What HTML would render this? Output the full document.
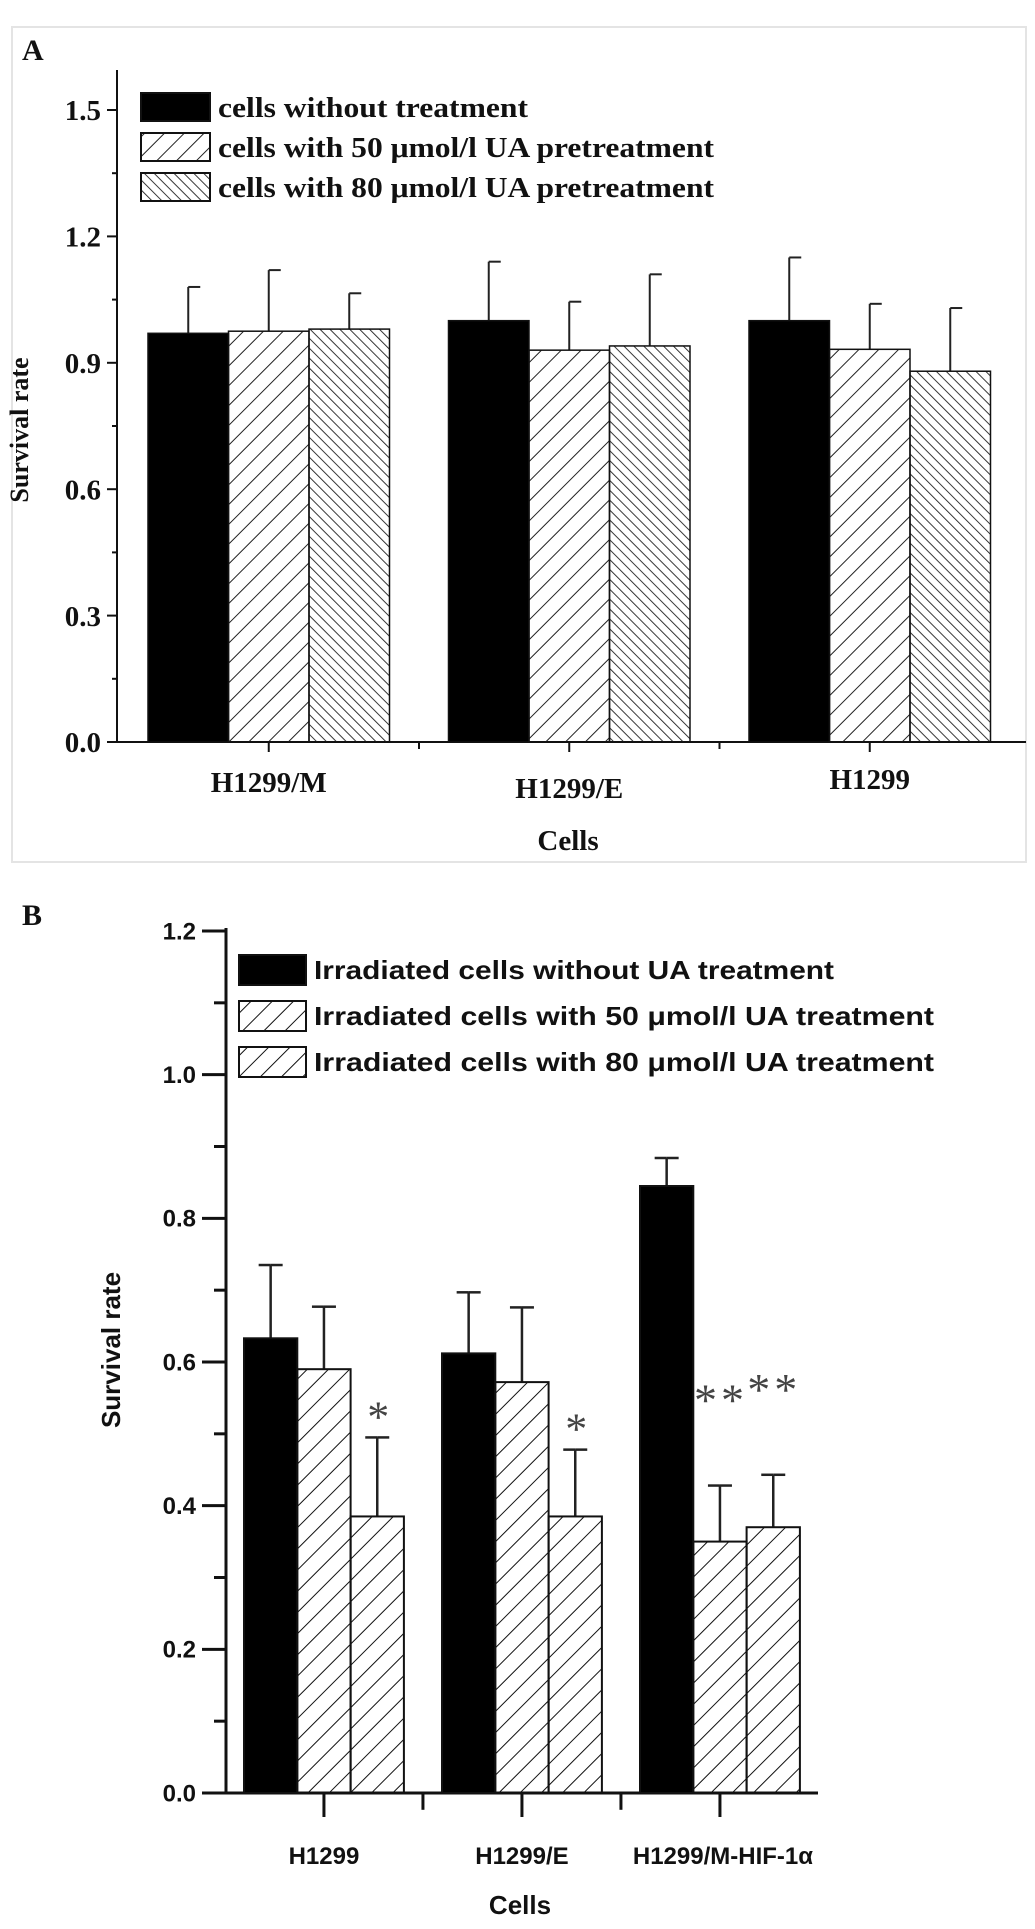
<!DOCTYPE html>
<html><head><meta charset="utf-8"><style>
html,body{margin:0;padding:0;background:#fff;}
svg{display:block;}
.ser{font-family:"Liberation Serif",serif;font-weight:bold;fill:#111;}
.san{font-family:"Liberation Sans",sans-serif;font-weight:bold;fill:#111;}
.star{font-family:"Liberation Serif",serif;font-weight:normal;fill:#444;}
</style></head><body>
<svg id="chart" width="1035" height="1929" viewBox="0 0 1035 1929" xmlns="http://www.w3.org/2000/svg">
<defs>
<pattern id="hA1" patternUnits="userSpaceOnUse" width="14" height="14" patternTransform="rotate(45)"><line x1="0" y1="0" x2="0" y2="14" stroke="#222" stroke-width="2"/></pattern>
<pattern id="hA2" patternUnits="userSpaceOnUse" width="7" height="7" patternTransform="rotate(-45)"><line x1="0" y1="0" x2="0" y2="7" stroke="#222" stroke-width="1.8"/></pattern>
<pattern id="hB" patternUnits="userSpaceOnUse" width="15" height="15" patternTransform="rotate(45)"><line x1="0" y1="0" x2="0" y2="15" stroke="#111" stroke-width="2"/></pattern>
</defs>
<rect x="12" y="27" width="1014" height="835" fill="none" stroke="#e4e4e4" stroke-width="2"/>
<text class="ser" x="22" y="60" font-size="30">A</text>
<text class="ser" x="22" y="925" font-size="30">B</text>
<g id="A"></g><g id="B"></g>
</svg>
<script>
const catsA = ["H1299/M","H1299/E","H1299"];
const ctrlA = [0.97,1.0,1.0];
const ua50A = [0.975,0.93,0.932];
const ua80A = [0.98,0.94,0.88];
const ctrlErrA = [1.08,1.14,1.15];
const ua50ErrA = [1.12,1.045,1.04];
const ua80ErrA = [1.065,1.11,1.03];
const ticksA = ["0.0","0.3","0.6","0.9","1.2","1.5"];
const legendA = ["cells without treatment","cells with 50 \u03bcmol/l UA pretreatment","cells with 80 \u03bcmol/l UA pretreatment"];

const catsB = ["H1299","H1299/E","H1299/M-HIF-1\u03b1"];
const ctrlB = [0.633,0.612,0.845];
const ua50B = [0.59,0.572,0.35];
const ua80B = [0.385,0.385,0.37];
const ctrlErrB = [0.735,0.697,0.884];
const ua50ErrB = [0.677,0.676,0.428];
const ua80ErrB = [0.495,0.478,0.443];
const sig50B = ["","","**"];
const sig80B = ["*","*","**"];
const ticksB = ["0.0","0.2","0.4","0.6","0.8","1.0","1.2"];
const legendB = ["Irradiated cells without UA treatment","Irradiated cells with 50  \u03bcmol/l UA treatment","Irradiated cells with 80  \u03bcmol/l UA treatment"];

const NS="http://www.w3.org/2000/svg";
function mk(parent,tag,attrs,text){const e=document.createElementNS(NS,tag);for(const k in attrs)e.setAttribute(k,attrs[k]);if(text!==undefined)e.textContent=text;parent.appendChild(e);return e;}

function drawPanel(g,cfg){
  const y=v=>cfg.base-(v/cfg.ymax)*(cfg.base-cfg.ytop);
  const gx=i=>cfg.x0+i*cfg.gstep;
  let a=mk(g,'line',{x1:cfg.ax,y1:cfg.axTop,x2:cfg.ax,y2:cfg.base,stroke:'#111','stroke-width':cfg.aw});
  
  
  a=mk(g,'line',{x1:cfg.ax-cfg.aw/2,y1:cfg.base,x2:cfg.axRight,y2:cfg.base,stroke:'#111','stroke-width':cfg.aw});
  
  
  const n=cfg.ticks.length;
  for(let i=0;i<n;i++){
    const v=parseFloat(cfg.ticks[i]),yy=y(v);
    mk(g,'line',{x1:cfg.ax-cfg.tl,y1:yy,x2:cfg.ax,y2:yy,stroke:'#111','stroke-width':cfg.aw});
    const t=mk(g,'text',{x:cfg.ax-cfg.tl-6,y:yy+cfg.fs*0.35,'text-anchor':'end','font-size':cfg.fs,class:cfg.cls},cfg.ticks[i]);
    
    
    if(i<n-1){const step=parseFloat(cfg.ticks[1])-parseFloat(cfg.ticks[0]);const ym=y(v+step/2);
      mk(g,'line',{x1:cfg.ax-cfg.tl/2,y1:ym,x2:cfg.ax,y2:ym,stroke:'#111','stroke-width':cfg.aw});}
  }
  const series=[cfg.s1,cfg.s2,cfg.s3],errs=[cfg.e1,cfg.e2,cfg.e3],fills=['#000',cfg.f2,cfg.f3];
  for(let i=0;i<cfg.cats.length;i++){
    const cx=gx(i)+1.5*cfg.bw;
    mk(g,'line',{x1:cx,y1:cfg.base,x2:cx,y2:cfg.base+cfg.tl,stroke:'#111','stroke-width':cfg.aw});
    const mx=gx(i)-(cfg.gstep-3*cfg.bw)/2;
    if(i>0) mk(g,'line',{x1:mx,y1:cfg.base,x2:mx,y2:cfg.base+cfg.tl*0.7,stroke:'#111','stroke-width':cfg.aw});
    const lab=mk(g,'text',{x:cx+(cfg.labDx?cfg.labDx[i]:0),y:cfg.labY[i],'text-anchor':'middle','font-size':cfg.fs,class:cfg.cls},cfg.cats[i]);
    
    
    for(let s=0;s<3;s++){
      const bx=gx(i)+s*cfg.bw,top=y(series[s][i]),et=y(errs[s][i]),mid=bx+cfg.bw/2;
      const el=mk(g,'line',{x1:mid,y1:top,x2:mid,y2:et,stroke:'#222','stroke-width':cfg.ew});
      
      
      mk(g,'line',{x1:mid,y1:et,x2:mid+cfg.cap,y2:et,stroke:'#222','stroke-width':cfg.ew});
      if(cfg.capBoth) mk(g,'line',{x1:mid-cfg.cap,y1:et,x2:mid,y2:et,stroke:'#222','stroke-width':cfg.ew});
      const r=mk(g,'rect',{x:bx,y:top,width:cfg.bw,height:cfg.base-top,fill:fills[s],stroke:'#111','stroke-width':cfg.bsw});
      
      
      if(cfg.sig){const sg=[null,cfg.sig[0],cfg.sig[1]][s];
        if(sg&&sg[i]){const dbl=sg[i].length>1;
          const st=mk(g,'text',{x:mid+cfg.sigDx,y:dbl?et-70:et-6,'text-anchor':'middle','font-size':dbl?46:44,class:'star','letter-spacing':dbl?4:0},sg[i]);
          
          }}
    }
  }
  for(let k=0;k<3;k++){
    const ly=cfg.legY+k*cfg.legStep;
    const sw=mk(g,'rect',{x:cfg.legX,y:ly-cfg.swH/2,width:cfg.swW,height:cfg.swH,fill:fills[k],stroke:'#111','stroke-width':2});
    
    
    const lt=mk(g,'text',{x:cfg.legX+cfg.swW+8,y:ly+cfg.lfs*0.35,'font-size':cfg.lfs,class:cfg.cls,textLength:cfg.legLen[k],lengthAdjust:'spacingAndGlyphs'},cfg.legend[k]);
    
    
  }
  const yt=mk(g,'text',{x:cfg.ytX,y:cfg.ytY,'text-anchor':'middle','font-size':cfg.yfs,class:cfg.cls,transform:`rotate(-90 ${cfg.ytX} ${cfg.ytY})`},'Survival rate');
  
  
  const xt=mk(g,'text',{x:cfg.xtX,y:cfg.xtY,'text-anchor':'middle','font-size':cfg.xfs,class:cfg.cls},'Cells');
  
  
}

drawPanel(document.getElementById('A'),{p:'panel-a',cls:'ser',base:742,ytop:110,ymax:1.5,ax:117,axTop:70,axRight:1026,aw:2,tl:10,fs:29,
  ticks:ticksA,cats:catsA,s1:ctrlA,s2:ua50A,s3:ua80A,e1:ctrlErrA,e2:ua50ErrA,e3:ua80ErrA,f2:'url(#hA1)',f3:'url(#hA2)',
  x0:148,gstep:300.5,bw:80.5,ew:2,cap:12,bsw:1.5,labY:[792,798,789],
  legend:legendA,legX:141,legY:107,legStep:40,swW:69,swH:28,lfs:29,legLen:[310,496,496],
  ytX:28,ytY:430,yfs:26,xtX:568,xtY:850,xfs:29});
drawPanel(document.getElementById('B'),{p:'panel-b',cls:'san',base:1793,ytop:931,ymax:1.2,ax:226,axTop:928,axRight:818,aw:3,tl:24,fs:24,
  ticks:ticksB,cats:catsB,s1:ctrlB,s2:ua50B,s3:ua80B,e1:ctrlErrB,e2:ua50ErrB,e3:ua80ErrB,f2:'url(#hB)',f3:'url(#hB)',
  x0:244,gstep:198,bw:53.3,ew:2.5,cap:12,capBoth:true,bsw:2,labY:[1864,1864,1864],labDx:[0,0,3],
  sig:[sig50B,sig80B],sigDx:1,
  legend:legendB,legX:239,legY:970,legStep:46,swW:67,swH:30,lfs:26,legLen:[520,620,620],
  ytX:120,ytY:1350,yfs:26,xtX:520,xtY:1914,xfs:26});
</script>
</body></html>
